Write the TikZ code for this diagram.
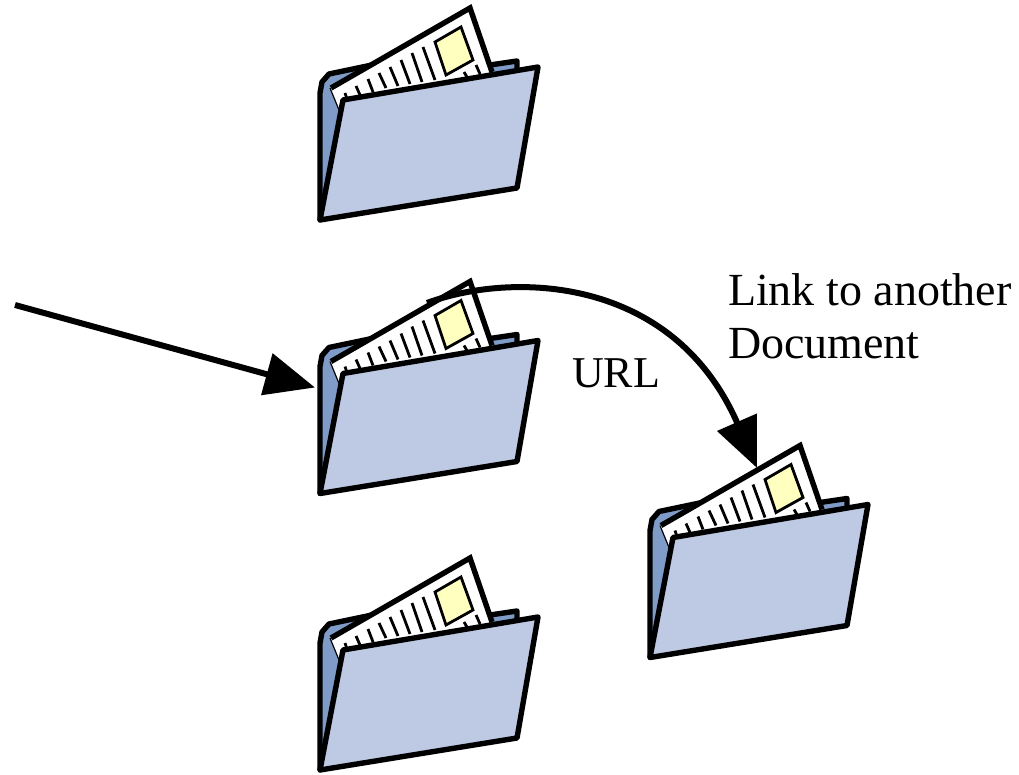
\documentclass[tikz,border=0pt]{standalone}
\usepackage{fontspec}
\setmainfont{Liberation Serif}
\usetikzlibrary{arrows.meta}
\definecolor{backblue}{HTML}{7F9CC9}
\definecolor{frontblue}{HTML}{BEC9E3}
\definecolor{noteyellow}{HTML}{FFFFC0}
\tikzset{
  x=1pt,y=-1pt,
  outline/.style={draw=black,line width=5.4pt,line join=round},
  thin rule/.style={draw=black,line width=2.8pt},
  link/.style={draw=black,line width=6pt,-{Triangle[length=50pt,width=42pt]}},
  label text/.style={inner sep=0pt,outer sep=0pt,anchor=base west,align=left},
  pics/folder/.style={code={
    \coordinate (-origin) at (0,0);
    \path[outline,fill=backblue] (320,220) -- (320,93) -- (322,82) -- (329,74)
      -- (372,65) -- (490,65) -- (517,61) -- (517,72) -- cycle;
    \path[fill=white] (339,110) -- (330,88) -- (470,8) -- (492,72) -- cycle;
    \draw[outline,line join=miter] (331,88) -- (470,8) -- (492,72);
    \draw[black,line width=1.2pt] (339,110) -- (330,88);
    \path[thin rule,fill=noteyellow] (435,42) -- (461,27) -- (473,60) -- (446,75) -- cycle;
    \foreach \xa/\ya/\xb/\yb in {345/93/347/99, 356/86/360/95, 368/79/373/92, 379/73/386/88,
      390/67/398/86, 401/60/410/84, 412/53/422/82, 423/47/435/80, 464/72/467/77, 476/65/480/74}
      \draw[thin rule] (\xa,\ya) -- (\xb,\yb);
    \path[outline,fill=frontblue] (320,220) -- (343,100) -- (538,67) -- (517,188) -- cycle;
  }}
}
\begin{document}
\begin{tikzpicture}
  \useasboundingbox (0,0) rectangle (1019,775);
  \pic (top) at (0,0) {folder};
  \pic (mid) at (0,273.5) {folder};
  \pic (low) at (0,550) {folder};
  \pic (far) at (330,437.5) {folder};
  \coordinate (source) at (15,305);
  \coordinate (midin) at (315,387.5);
  \coordinate (midout) at (427,303);
  \coordinate (farin) at (757,468);
  \draw[link] (source) -- (midin);
  \draw[link] (midout) .. controls (510,272) and (672,274) .. (farin);
  \node[label text,font=\fontsize{44}{53}\selectfont] (urltext) at (572,387) {URL};
  \node[label text,font=\fontsize{46}{53}\selectfont] (linktext) at (728,358) {Link to another\\Document};
\end{tikzpicture}
\end{document}
